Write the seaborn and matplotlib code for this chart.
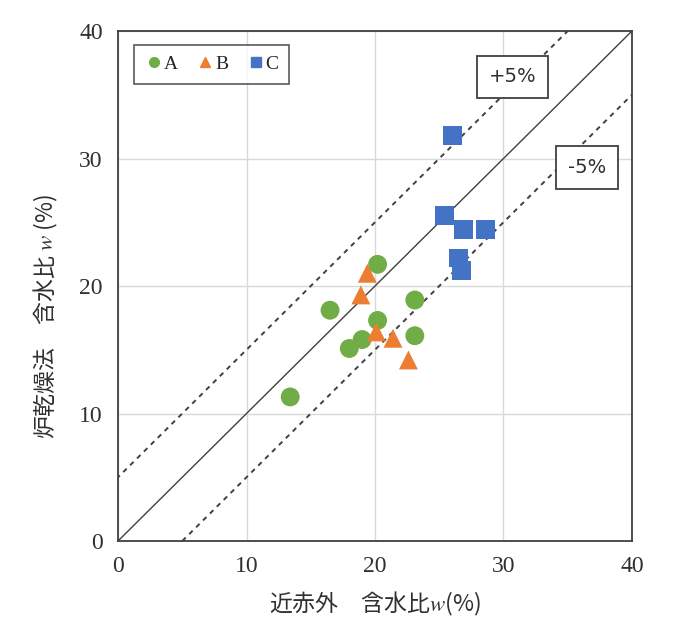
import numpy as np
import pandas as pd
import matplotlib
matplotlib.use("Agg")
import matplotlib.pyplot as plt
import seaborn as sns

# ------------------------------------------------------------
# data
# ------------------------------------------------------------
a_x = [13.4, 16.5, 18.0, 19.0, 20.2, 20.2, 23.1, 23.1]
a_y = [11.3, 18.1, 15.1, 15.8, 21.7, 17.3, 18.9, 16.1]

b_x = [19.4, 18.9, 20.1, 21.4, 22.6]
b_y = [21.0, 19.3, 16.4, 15.9, 14.2]

c_x = [26.0, 25.4, 26.9, 28.6, 26.5, 26.7]
c_y = [31.8, 25.5, 24.4, 24.4, 22.2, 21.2]

groups = ["A", "B", "C"]
offsets = [0, 5, -5]
ticks = [0, 10, 20, 30, 40]

df = pd.concat([
    pd.DataFrame({"x": a_x, "y": a_y, "group": "A"}),
    pd.DataFrame({"x": b_x, "y": b_y, "group": "B"}),
    pd.DataFrame({"x": c_x, "y": c_y, "group": "C"}),
])

palette = {"A": "#70AD47", "B": "#ED7D31", "C": "#4472C4"}
markers = {"A": "o", "B": "^", "C": "s"}

# ------------------------------------------------------------
# plot
# ------------------------------------------------------------
sns.set_style("white")
plt.rcParams["font.family"] = ["Noto Sans CJK JP", "DejaVu Sans"]
plt.rcParams["mathtext.fontset"] = "stix"

fig = plt.figure(figsize=(6.83, 6.29), dpi=100)
ax = fig.add_axes([0.1728, 0.1399, 0.7525, 0.8108])

# reference lines y = x, x+5, x-5
line_x = np.array([-10, 50])
for off in offsets:
    ax.plot(line_x, line_x + off, color="#404040",
            lw=1.0 if off == 0 else 1.4,
            ls="-" if off == 0 else (0, (2.5, 2.5)), zorder=2)

sns.scatterplot(data=df, x="x", y="y", hue="group", style="group",
                palette=palette, markers=markers, s=185,
                edgecolor="none", ax=ax, zorder=3, legend=False)

ax.set_xlim(0, 40)
ax.set_ylim(0, 40)
ax.set_xticks(ticks)
ax.set_yticks(ticks)
ax.grid(True, color="#d9d9d9", lw=1)
ax.set_axisbelow(True)
for s in ax.spines.values():
    s.set_color("#404040")
    s.set_linewidth(1.3)
ax.tick_params(length=0, pad=11)
for lab in ax.get_xticklabels() + ax.get_yticklabels():
    lab.set_fontfamily("Liberation Serif")
    lab.set_fontsize(17)
    lab.set_color("#303030")

ax.set_xlabel("近赤外\u3000含水比$w$(%)", fontsize=16.5, color="#303030", labelpad=9)
ax.set_ylabel("炉乾燥法\u3000含水比 $w$ (%)", fontsize=16.5, color="#303030")
ax.yaxis.set_label_coords(-0.112, 0.44)

# legend
handles = [plt.Line2D([], [], ls="", marker=markers[g], color=palette[g],
                      markersize=7, label=g) for g in groups]
leg = ax.legend(handles=handles, ncol=3, loc="upper left",
                bbox_to_anchor=(0.031, 0.973), borderaxespad=0,
                frameon=True, fancybox=False,
                handletextpad=0.0, columnspacing=0.9, handlelength=1.0,
                borderpad=0.55, prop={"family": "Liberation Serif", "size": 14})
leg.get_frame().set_edgecolor("#303030")
leg.get_frame().set_linewidth(1.2)

# +5% / -5% labels
box = dict(boxstyle="square,pad=0.6", fc="white", ec="#404040", lw=1.3)
ax.text(30.7, 36.4, "+5%", ha="center", va="center", fontsize=14,
        color="#303030", bbox=box, zorder=4, family="DejaVu Sans")
ax.text(36.5, 29.3, "-5%", ha="center", va="center", fontsize=14,
        color="#303030", bbox=box, zorder=4, family="DejaVu Sans")

fig.savefig("out.png", dpi=100)
